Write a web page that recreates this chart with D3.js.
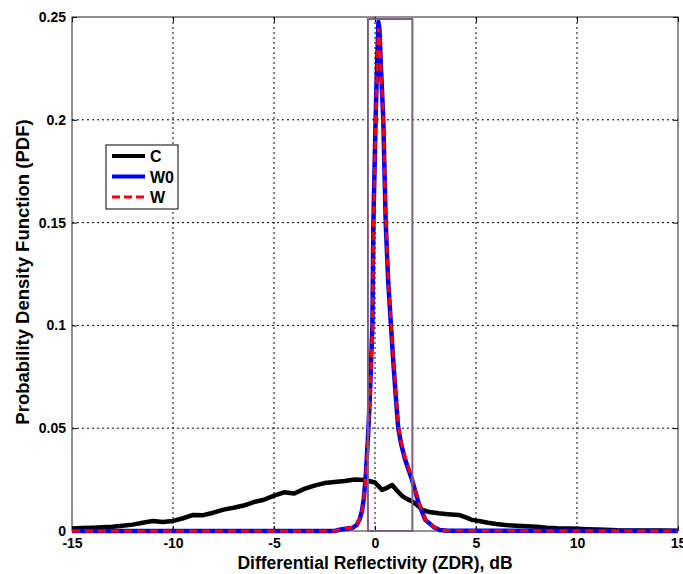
<!DOCTYPE html>
<html>
  <head>
    <meta charset="UTF-8">
    <title>ZDR PDF</title>
    <style>
      body { margin: 0; background: #fff; }
      text { font-family: "Liberation Sans", Arial, sans-serif; font-weight: bold; fill: #000; }
      .grid line { stroke: #000; stroke-width: 1; stroke-dasharray: 2,3; }
      .tick-label { font-size: 14px; }
      .x-title { font-size: 17.5px; }
      .y-title { font-size: 18.5px; }
      .legend text { font-size: 16px; }
    </style>
    <script src="https://d3js.org/d3.v7.min.js"></script>
  </head>
  <body>
    <script>
      // ==== Data ====
      // C : broad distribution
      var zdrC = [-15, -14.5, -14, -13.5, -13, -12.5, -12, -11.5, -11, -10.5, -10, -9.5, -9, -8.5,
                  -8, -7.5, -7, -6.5, -6, -5.5, -5, -4.5, -4, -3.5, -3, -2.5, -2, -1.5, -1, -0.5,
                  0, 0.35, 0.6, 0.85, 1.1, 1.35, 1.6, 1.85, 2.1, 2.35, 2.7, 3.15, 3.6, 4.15, 4.5,
                  4.8, 5.2, 5.6, 6, 6.45, 7, 7.5, 8, 8.5, 9, 9.75, 10.5, 11.4, 12, 13, 14, 15];
      var pdfC = [0.0012, 0.0014, 0.0016, 0.0018, 0.0021, 0.0026, 0.0031, 0.0040, 0.0049, 0.0044,
                  0.0049, 0.0062, 0.0078, 0.0077, 0.0089, 0.0104, 0.0113, 0.0124, 0.0141, 0.0152,
                  0.0172, 0.0188, 0.0182, 0.0205, 0.0221, 0.0233, 0.0238, 0.0243, 0.0250, 0.0248,
                  0.0236, 0.0200, 0.0210, 0.0224, 0.0195, 0.0170, 0.0155, 0.0143, 0.0125, 0.0102,
                  0.0092, 0.0086, 0.0082, 0.0078, 0.0066, 0.0054, 0.0047, 0.0040, 0.0034, 0.0029,
                  0.0026, 0.0023, 0.0021, 0.0016, 0.0013, 0.0012, 0.0009, 0.0006, 0.0004, 0.0003,
                  0.0002, 0.0001];

      // W0 and W : narrow peaks
      var zdrW = [-15, -2, -1.7, -1.1, -0.9, -0.75, -0.65, -0.55, -0.45, -0.35, -0.25, -0.13, -0.08,
                  0.03, 0.11, 0.17, 0.22, 0.28, 0.41, 0.53, 0.65, 0.79, 0.9, 1.04, 1.15, 1.3, 1.5,
                  1.83, 2.16, 2.49, 2.9, 3.2, 3.6, 15];
      var pdfW0 = [0, 0, 0.0007, 0.0016, 0.003, 0.006, 0.0095, 0.016, 0.028, 0.045, 0.066, 0.10, 0.15,
                   0.20, 0.229, 0.2476, 0.244, 0.229, 0.20, 0.15, 0.122, 0.10, 0.083, 0.064, 0.05,
                   0.042, 0.0345, 0.025, 0.0136, 0.0054, 0.002, 0.0005, 0.0001, 0];
      var pdfW = [0, 0, 0.0009, 0.0018, 0.0032, 0.0062, 0.0098, 0.016, 0.027, 0.044, 0.065, 0.098, 0.148,
                  0.197, 0.226, 0.2445, 0.242, 0.228, 0.201, 0.152, 0.124, 0.101, 0.085, 0.066, 0.052,
                  0.043, 0.0355, 0.0255, 0.014, 0.0056, 0.0021, 0.0006, 0.0001, 0];

      var xTicks = [-15, -10, -5, 0, 5, 10, 15];
      var yTicks = [0, 0.05, 0.1, 0.15, 0.2, 0.25];
      var boxZdr = [-0.35, 1.85];   // highlighted interval
      var boxTop = 0.249;

      var seriesNames = ["C", "W0", "W"];

      // ==== Layout ====
      var W = 683, H = 574;
      var margin = {top: 17, right: 5, bottom: 43, left: 72};
      var iw = W - margin.left - margin.right,
          ih = H - margin.top - margin.bottom;

      var svg = d3.select("body").append("svg")
          .attr("width", W)
          .attr("height", H);

      var g = svg.append("g")
          .attr("transform", "translate(" + margin.left + "," + margin.top + ")");

      var x = d3.scaleLinear().domain([-15, 15]).range([0, iw]);
      var y = d3.scaleLinear().domain([0, 0.25]).range([ih, 0]);

      // grid
      var grid = g.append("g").attr("class", "grid");
      grid.selectAll(".gx")
          .data(xTicks.slice(1, -1))
          .enter().append("line")
          .attr("x1", function(d) { return x(d); })
          .attr("x2", function(d) { return x(d); })
          .attr("y1", 0).attr("y2", ih);
      grid.selectAll(".gy")
          .data(yTicks.slice(1, -1))
          .enter().append("line")
          .attr("y1", function(d) { return y(d); })
          .attr("y2", function(d) { return y(d); })
          .attr("x1", 0).attr("x2", iw);

      // axes (ticks inside, matlab style)
      var fmt = function(d) { return String(d); };
      var xAxis = g.append("g")
          .attr("transform", "translate(0," + ih + ")")
          .call(d3.axisBottom(x).tickValues(xTicks).tickSizeInner(-5).tickSizeOuter(0).tickPadding(7).tickFormat(fmt));
      var yAxis = g.append("g")
          .call(d3.axisLeft(y).tickValues(yTicks).tickSizeInner(-5).tickSizeOuter(0).tickPadding(6).tickFormat(fmt));
      g.append("g")
          .call(d3.axisTop(x).tickValues(xTicks).tickSizeInner(-5).tickSizeOuter(0).tickFormat(""));
      g.append("g")
          .attr("transform", "translate(" + iw + ",0)")
          .call(d3.axisRight(y).tickValues(yTicks).tickSizeInner(-5).tickSizeOuter(0).tickFormat(""));

      g.selectAll(".domain").remove();
      g.selectAll(".tick line").attr("stroke", "#000");
      xAxis.selectAll("text").attr("class", "tick-label").attr("font-family", null).attr("font-size", null);
      yAxis.selectAll("text").attr("class", "tick-label").attr("font-family", null).attr("font-size", null);

      // frame
      g.append("rect")
          .attr("x", 0).attr("y", 0)
          .attr("width", iw).attr("height", ih)
          .attr("fill", "none")
          .attr("stroke", "#222")
          .attr("stroke-width", 1);

      // lines
      var line = d3.line()
          .x(function(d) { return x(d[0]); })
          .y(function(d) { return y(d[1]); });

      var dataC = d3.zip(zdrC, pdfC);
      var dataW0 = d3.zip(zdrW, pdfW0);
      var dataW = d3.zip(zdrW, pdfW);

      g.append("path")
          .datum(dataC)
          .attr("d", line)
          .attr("fill", "none")
          .attr("stroke", "#000")
          .attr("stroke-width", 4.5)
          .attr("stroke-linejoin", "round");

      g.append("path")
          .datum(dataW0)
          .attr("d", line)
          .attr("fill", "none")
          .attr("stroke", "#0000ff")
          .attr("stroke-width", 4.5)
          .attr("stroke-linejoin", "round");

      g.append("path")
          .datum(dataW)
          .attr("d", line)
          .attr("fill", "none")
          .attr("stroke", "#ff0000")
          .attr("stroke-width", 3)
          .attr("stroke-dasharray", "8,5");

      // highlight box
      g.append("rect")
          .attr("x", x(boxZdr[0]))
          .attr("y", y(boxTop))
          .attr("width", x(boxZdr[1]) - x(boxZdr[0]))
          .attr("height", y(0) - y(boxTop))
          .attr("fill", "none")
          .attr("stroke", "#7b5f7d")
          .attr("stroke-width", 2);

      // axis titles
      svg.append("text")
          .attr("class", "x-title")
          .attr("x", margin.left + x(0))
          .attr("y", 569)
          .attr("text-anchor", "middle")
          .text("Differential Reflectivity (ZDR), dB");

      svg.append("text")
          .attr("class", "y-title")
          .attr("transform", "translate(29," + (margin.top + ih / 2 - 2) + ") rotate(-90)")
          .attr("text-anchor", "middle")
          .text("Probability Density Function (PDF)");

      // legend
      var legend = svg.append("g")
          .attr("class", "legend")
          .attr("transform", "translate(106,145)");
      legend.append("rect")
          .attr("width", 72).attr("height", 64)
          .attr("fill", "#fff")
          .attr("stroke", "#000")
          .attr("stroke-width", 1);
      var legStyle = [
          {stroke: "#000", width: 4, dash: null},
          {stroke: "#0000ff", width: 4, dash: null},
          {stroke: "#ff0000", width: 3, dash: "8,4"}
      ];
      seriesNames.forEach(function(name, i) {
          var ly = 11 + i * 20.5;
          legend.append("line")
              .attr("x1", 6).attr("x2", 39)
              .attr("y1", ly).attr("y2", ly)
              .attr("stroke", legStyle[i].stroke)
              .attr("stroke-width", legStyle[i].width)
              .attr("stroke-dasharray", legStyle[i].dash);
          legend.append("text")
              .attr("x", 44).attr("y", ly + 6)
              .text(name);
      });
    </script>
  </body>
</html>
